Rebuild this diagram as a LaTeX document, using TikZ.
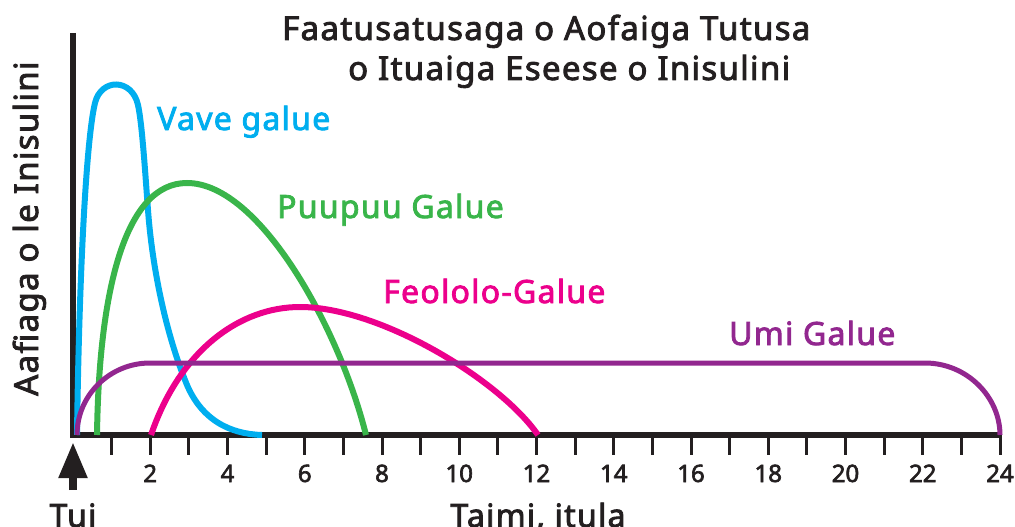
\documentclass[tikz,border=0pt]{standalone}
\usepackage{fontspec}
\setmainfont{Noto Sans}[AutoFakeBold=2.6]
\usetikzlibrary{arrows.meta}
\definecolor{vave}{RGB}{0,174,239}
\definecolor{puupuu}{RGB}{57,181,74}
\definecolor{feololo}{RGB}{236,0,140}
\definecolor{umi}{RGB}{146,39,143}
\definecolor{ink}{RGB}{35,31,32}
\tikzset{
  curve/.style={line width=6pt},
  lbl/.style={font=\bfseries\fontsize{32}{36}\selectfont\addfontfeature{LetterSpace=4}, inner sep=0pt, anchor=base west},
  biglbl/.style={font=\bfseries\fontsize{33}{36}\selectfont\addfontfeature{LetterSpace=4}, inner sep=0pt, anchor=base west},
  ticklbl/.style={font=\bfseries\fontsize{24}{26}\selectfont, inner sep=0pt, anchor=base, ink},
}
\begin{document}
\begin{tikzpicture}[x=1pt, y=-1pt]
\useasboundingbox (0,0) rectangle (1015,527);

% title
\node[biglbl, ink] (title1) at (282,40) {Faatusatusaga o Aofaiga Tutusa};
\node[biglbl, ink] (title2) at (348,80) {o Ituaiga Eseese o Inisulini};

% axes
\coordinate (O) at (73,435);
\coordinate (ytop) at (73,33);
\coordinate (xend) at (1000,435);
\draw[ink, line width=6.5pt] (ytop) -- (O) -- (xend);
\foreach \t in {1,...,24}
  \draw[ink, line width=3pt] ({73+38.625*\t},435) -- ++(0,20);
\foreach \t in {2,4,...,24}
  \node[ticklbl] (tick\t) at ({73+38.625*\t},482) {\t};

\node[biglbl, ink, rotate=90] (ylabel) at (38,396) {Aafiaga o le Inisulini};
\node[lbl, ink, anchor=base] (xlabel) at (538,527) {Taimi, itula};
\node[lbl, ink, anchor=base] (tui) at (73,527) {Tui};
\coordinate (tuitip) at (73,442);
\coordinate (tuitail) at (73,490);
\draw[ink, line width=8pt, -{Triangle[width=27pt,length=36pt]}] (tuitail) -- (tuitip);

% curves
\draw[vave, curve] (77,435) .. controls (79,280) and (86,140) .. (95,103)
  .. controls (101,78) and (132,78) .. (138,105)
  .. controls (142,123) and (145,170) .. (148,210)
  .. controls (152,265) and (165,330) .. (185,380)
  .. controls (200,420) and (230,434) .. (262,435);
\draw[puupuu, curve] (97,435) .. controls (99,290) and (125,183) .. (187,183)
  .. controls (260,183) and (340,330) .. (366,435);
\draw[feololo, curve] (151,435) .. controls (180,350) and (240,307) .. (300,307)
  .. controls (380,307) and (500,380) .. (538,435);
\draw[umi, line width=5pt] (77,435) .. controls (77,395) and (110,363) .. (150,363)
  -- (925,363) .. controls (967,363) and (1000,397) .. (1000,435);

% labels
\node[lbl, vave] (vave) at (157,130) {Vave galue};
\node[lbl, puupuu] (puupuu) at (277,218) {Puupuu Galue};
\node[lbl, feololo] (feololo) at (383,303) {Feololo-Galue};
\node[lbl, umi] (umi) at (729,345) {Umi Galue};
\end{tikzpicture}
\end{document}
